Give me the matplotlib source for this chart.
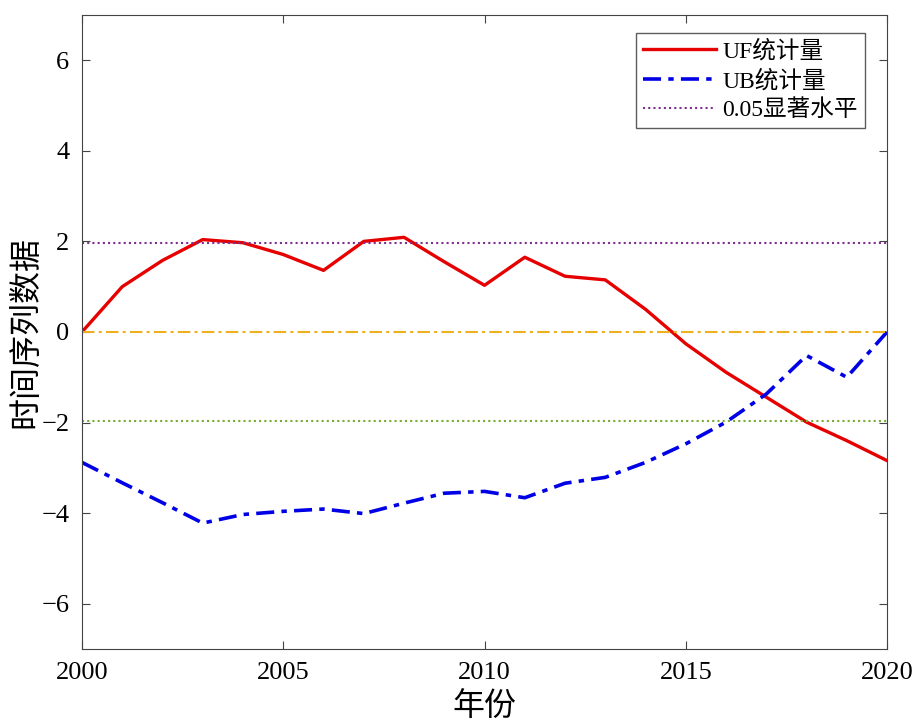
import numpy as np
import matplotlib
matplotlib.use("Agg")
import matplotlib.pyplot as plt

plt.rcParams['font.family'] = ['Liberation Serif', 'Noto Sans CJK SC']
plt.rcParams['axes.unicode_minus'] = True

years = list(range(2000, 2021))
uf = [0.0, 1.0, 1.58, 2.04, 1.97, 1.71, 1.36, 2.0, 2.09, 1.55, 1.03,
      1.65, 1.23, 1.15, 0.5, -0.26, -0.89, -1.44, -1.99, -2.40, -2.84]
ub = [-2.88, -3.33, -3.77, -4.22, -4.03, -3.96, -3.91, -4.01, -3.78, -3.56, -3.52,
      -3.66, -3.34, -3.21, -2.88, -2.47, -1.99, -1.37, -0.52, -1.0, 0.0]
sig_level = 1.96
labels = ['UF统计量', 'UB统计量', '0.05显著水平']

fig = plt.figure(figsize=(9.18, 7.28), dpi=100)
ax = fig.add_axes([0.0893, 0.1085, 0.877, 0.871])

ax.plot(years, uf, color='#e60000', lw=2.4, label=labels[0])
ax.plot(years, ub, color='#0000e6', lw=2.6, dashes=(5, 2, 1.5, 2), label=labels[1])
ax.axhline(sig_level, color='#7e2f8e', lw=1.5, ls=(0, (1, 1.5)), label=labels[2])
ax.axhline(-sig_level, color='#77ac30', lw=1.5, ls=(0, (1, 1.5)))
ax.axhline(0, color='#edb120', lw=1.5, ls=(0, (6, 2, 1.5, 2)))

ax.set_xlim(2000, 2020)
ax.set_ylim(-7, 7)
ax.set_xticks([2000, 2005, 2010, 2015, 2020])
ax.set_yticks([-6, -4, -2, 0, 2, 4, 6])
ax.tick_params(direction='in', top=True, right=True, labelsize=19, length=6, pad=9, color='#444444')
for s in ax.spines.values():
    s.set_color('#444444')
ax.set_xlabel('年份', fontsize=23, labelpad=7)
ax.set_ylabel('时间序列数据', fontsize=23)
ax.yaxis.label.set_va('center')
ax.yaxis.set_label_coords(-0.068, 0.5)

leg = ax.legend(loc='upper right', fontsize=17, fancybox=False, edgecolor='#333333',
                borderpad=0.3, handlelength=3.1, handletextpad=0.25, labelspacing=0.3,
                bbox_to_anchor=(0.987, 0.99))
leg.get_frame().set_linewidth(1.0)

fig.savefig('out.png', dpi=100)
